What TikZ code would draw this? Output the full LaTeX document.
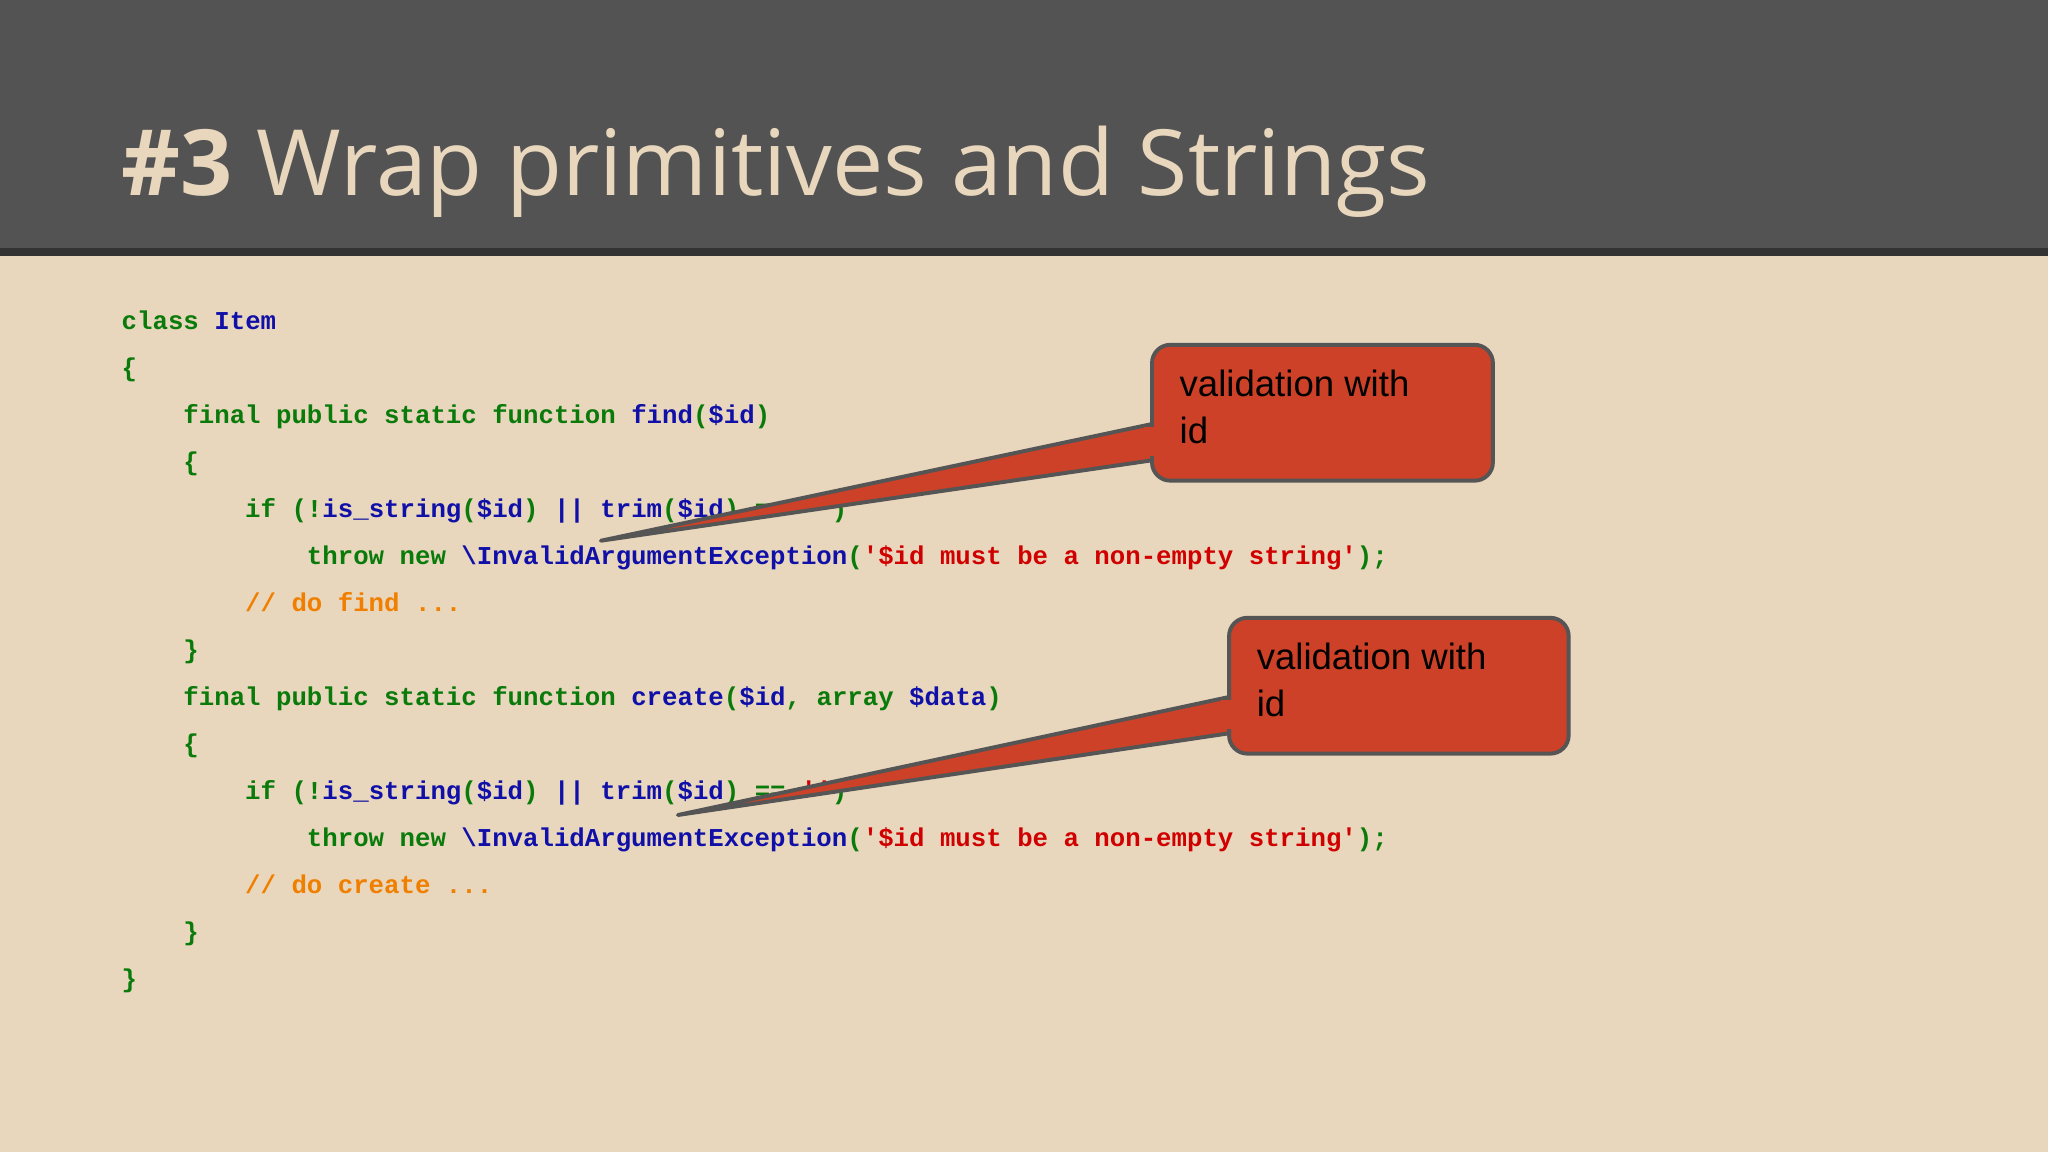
\documentclass[tikz,border=0pt]{standalone}
\usepackage{fontspec}
\setmainfont{Open Sans}
\setmonofont{Liberation Mono}
\newfontfamily\calfont{Liberation Sans}
\definecolor{hdr}{HTML}{535353}
\definecolor{hdrline}{HTML}{333333}
\definecolor{bg}{HTML}{E8D7BD}
\definecolor{ttl}{HTML}{E8D7BD}
\definecolor{cg}{HTML}{0A7A0A}
\definecolor{cb}{HTML}{1010A8}
\definecolor{crd}{HTML}{D00000}
\definecolor{co}{HTML}{F07F00}
\definecolor{calfill}{HTML}{CC4127}
\definecolor{calline}{HTML}{555555}
\newcommand\kg[1]{\textcolor{cg}{#1}}
\newcommand\kb[1]{\textcolor{cb}{#1}}
\newcommand\kr[1]{\textcolor{crd}{#1}}
\newcommand\ko[1]{\textcolor{co}{#1}}
\tikzset{code/.style={anchor=base west,inner sep=0pt,font=\ttfamily\bfseries\fontsize{19.7}{22}\selectfont},
calbox/.style={fill=calfill,draw=calline,line width=3pt,rounded corners=14pt},
caltxt/.style={anchor=north west,align=left,inner sep=0pt,font=\calfont\fontsize{28}{36}\selectfont,text=black}}
\begin{document}
\begin{tikzpicture}[x=1pt,y=-1pt]
\useasboundingbox (0,0) rectangle (1568,882);
\fill[bg] (0,0) rectangle (1568,882);
\fill[hdr] (0,0) rectangle (1568,191);
\fill[hdrline] (0,190) rectangle (1568,196);
\node[anchor=base west,inner sep=0pt,text=ttl,font=\fontsize{70}{80}\selectfont] (title) at (93,150) {\textbf{\#3} Wrap primitives and Strings};
\def\cw{11.82}
\node[code] (l1) at (93,252) {\kg{class} \kb{Item}};
\node[code] (l2) at (93,288) {\kg{\{}};
\node[code] (l3) at (93+4*\cw,324) {\kg{final public static function} \kb{find}\kg{(}\kb{\$id}\kg{)}};
\node[code] (l4) at (93+4*\cw,360) {\kg{\{}};
\node[code] (l5) at (93+8*\cw,396) {\kg{if (!}\kb{is\_string}\kg{(}\kb{\$id}\kg{)} \kb{||} \kb{trim}\kg{(}\kb{\$id}\kg{)} \kg{==} \kr{''}\kg{)}};
\node[code] (l6) at (93+12*\cw,432) {\kg{throw new} \kb{\textbackslash InvalidArgumentException}\kg{(}\kr{'\$id must be a non-empty string'}\kg{);}};
\node[code] (l7) at (93+8*\cw,468) {\ko{// do find ...}};
\node[code] (l8) at (93+4*\cw,504) {\kg{\}}};
\node[code] (l9) at (93+4*\cw,540) {\kg{final public static function} \kb{create}\kg{(}\kb{\$id}\kg{,} \kg{array} \kb{\$data}\kg{)}};
\node[code] (l10) at (93+4*\cw,576) {\kg{\{}};
\node[code] (l11) at (93+8*\cw,612) {\kg{if (!}\kb{is\_string}\kg{(}\kb{\$id}\kg{)} \kb{||} \kb{trim}\kg{(}\kb{\$id}\kg{)} \kg{==} \kr{''}\kg{)}};
\node[code] (l12) at (93+12*\cw,648) {\kg{throw new} \kb{\textbackslash InvalidArgumentException}\kg{(}\kr{'\$id must be a non-empty string'}\kg{);}};
\node[code] (l13) at (93+8*\cw,684) {\ko{// do create ...}};
\node[code] (l14) at (93+4*\cw,720) {\kg{\}}};
\node[code] (l15) at (93,756) {\kg{\}}};
% callout 1
\coordinate (t1) at (460,414);
\fill[calfill,draw=calline,line width=3pt,line join=round] (t1) -- (885,324) -- (885,352) -- cycle;
\draw[calbox] (882,264) rectangle (1143,368);
\fill[calfill] (876,327) -- (890,327) -- (890,349) -- (876,349) -- cycle;
\node[caltxt] (c1) at (903,283) {validation with\\id};
% callout 2
\coordinate (t2) at (519,624);
\fill[calfill,draw=calline,line width=3pt,line join=round] (t2) -- (944,533) -- (944,561) -- cycle;
\draw[calbox] (941,473) rectangle (1201,577);
\fill[calfill] (935,536) -- (949,536) -- (949,558) -- (935,558) -- cycle;
\node[caltxt] (c2) at (962,492) {validation with\\id};
\end{tikzpicture}
\end{document}
